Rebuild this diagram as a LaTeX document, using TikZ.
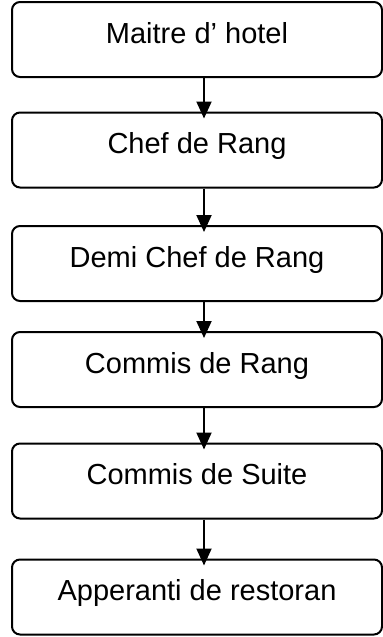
\documentclass[tikz,border=0pt]{standalone}
\usepackage{fontspec}
\setmainfont{Liberation Sans}
\usetikzlibrary{arrows.meta}

\begin{document}
\begin{tikzpicture}[
      x=0.5pt, y=-0.5pt,
      rank/.style={draw, line width=1pt, rounded corners=4pt,
        minimum width=185pt, minimum height=37.5pt, inner sep=0pt,
        font=\fontsize{14.5}{17}\selectfont,
        text height=10pt, text depth=6.5pt},
      link/.style={-{Triangle[length=8.5pt, width=7.5pt]}, line width=1pt,
        shorten >=-3.5pt},
    ]
    \useasboundingbox (0,0) rectangle (383,637);

    % Ranks, top to bottom
    \foreach \name/\y/\title in {mdh/39.5/Maitre d' hotel,
                                 cdr/150/Chef de Rang,
                                 dcr/263.5/Demi Chef de Rang,
                                 cmr/369.5/Commis de Rang,
                                 cms/481/Commis de Suite,
                                 apr/597/Apperanti de restoran}
      \node[rank] (\name) at (197, \y) {\title};

    % Links down the line
    \foreach \a/\b in {mdh/cdr, cdr/dcr, dcr/cmr, cmr/cms, cms/apr}
      \draw[link] ([xshift=3.5pt]\a.south) -- ([xshift=3.5pt]\b.north);
  \end{tikzpicture}
\end{document}
